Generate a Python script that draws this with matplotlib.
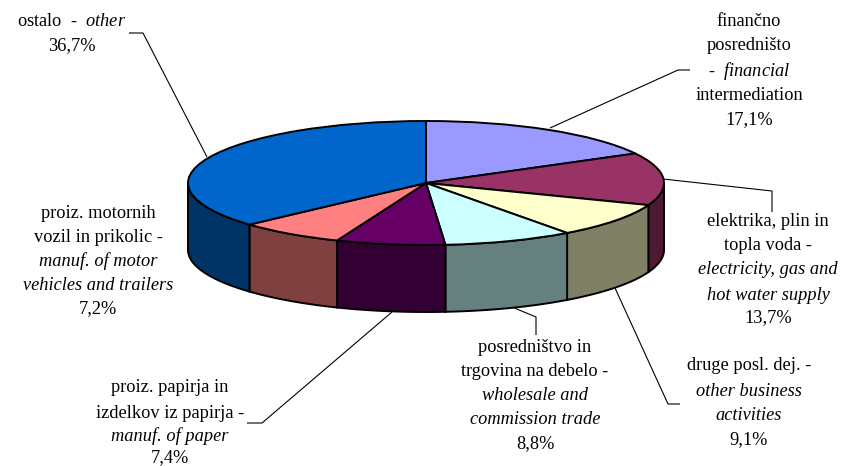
import numpy as np
import matplotlib
matplotlib.use("Agg")
import matplotlib.pyplot as plt

plt.rcParams["font.family"] = ["Liberation Serif", "DejaVu Serif"]
plt.rcParams["mathtext.fontset"] = "custom"
plt.rcParams["mathtext.rm"] = "Liberation Serif"
plt.rcParams["mathtext.it"] = "Liberation Serif:italic"

# slices, clockwise from 12 o'clock
shares = [17.1, 13.7, 9.1, 8.8, 7.4, 7.2, 36.7]
top_colors = ["#9999FF", "#993366", "#FFFFCC", "#CCFFFF", "#660066", "#FF8080", "#0066CC"]
side_colors = ["#4D4D80", "#4D1933", "#808066", "#668080", "#330033", "#804040", "#003366"]

financial_lines = ["finančno", "posredništo", r"-  $\mathit{financial}$", "intermediation", "17,1%"]
electricity_lines = ["elektrika, plin in", "topla voda -", "electricity, gas and", "hot water supply", "13,7%"]
business_lines = ["druge posl. dej. -", "other business", "activities", "9,1%"]
trade_lines = ["posredništvo in", "trgovina na debelo -", "wholesale and", "commission trade", "8,8%"]
paper_lines = ["proiz. papirja in", "izdelkov iz papirja -", "manuf. of paper", "7,4%"]
motor_lines = ["proiz. motornih", "vozil in prikolic -", "manuf. of motor", "vehicles and trailers", "7,2%"]
other_lines = [r"ostalo  -  $\mathit{other}$", "36,7%"]

# pie geometry in image pixels
CX, CY, RX, RY, DEPTH = 426, 183, 238, 62, 67
W, H = 845, 466

fig = plt.figure(figsize=(W / 100, H / 100), dpi=100)

# full canvas axes in pixel coordinates, for labels and leader lines
ax = fig.add_axes([0, 0, 1, 1])
ax.set_xlim(0, W)
ax.set_ylim(H, 0)
ax.axis("off")

# the top face is a plain pie stretched to an ellipse
pie_ax = fig.add_axes([(CX - RX) / W, 1 - (CY + RY) / H, 2 * RX / W, 2 * RY / H])
pie_ax.pie(shares, colors=top_colors, startangle=90, counterclock=False, radius=1,
           wedgeprops={"edgecolor": "black", "linewidth": 1.4, "zorder": 3})
pie_ax.set_aspect("auto")
pie_ax.set_xlim(-1, 1)
pie_ax.set_ylim(-1, 1)
pie_ax.patch.set_visible(False)

# side walls, only the front half of the rim can be seen
edges = np.concatenate([[0], np.cumsum(shares)]) / sum(shares) * 2 * np.pi
drop = DEPTH / RY
for start, end, color in zip(edges[:-1], edges[1:], side_colors):
    a = max(start, np.pi / 2)
    b = min(end, 3 * np.pi / 2)
    if b <= a:
        continue
    t = np.linspace(a, b, 60)
    xs = np.sin(t)
    ys = np.cos(t)
    pie_ax.fill(np.r_[xs, xs[::-1]], np.r_[ys, ys[::-1] - drop], facecolor=color,
                edgecolor="black", linewidth=1.4, clip_on=False, zorder=1)


def leader(points):
    xs, ys = zip(*points)
    ax.plot(xs, ys, color="black", linewidth=0.8, solid_capstyle="butt")


def label(lines, x, y_positions, italic=()):
    for i, (line, y) in enumerate(zip(lines, y_positions)):
        ax.text(x, y, line, ha="center", va="center", fontsize=13.2, color="black",
                style="italic" if i in italic else "normal")


leader([(129, 33), (143, 33), (207, 157)])
leader([(550, 128), (678, 70), (690, 70)])
leader([(663, 179), (772, 191), (772, 212)])
leader([(615, 288), (668, 404), (680, 404)])
leader([(512, 307), (536, 317), (536, 335)])
leader([(392, 312), (262, 423), (247, 423)])

label(other_lines, 72, [22, 46])
label(financial_lines, 749, [22, 46, 71, 96, 120])
label(electricity_lines, 768, [222, 246, 270, 295, 318], italic=(2, 3))
label(business_lines, 749, [365, 391, 416, 440], italic=(1, 2))
label(trade_lines, 535, [347, 371, 396, 420, 444], italic=(2, 3))
label(paper_lines, 170, [388, 413, 436, 458], italic=(2,))
label(motor_lines, 98, [214, 238, 261, 285, 309], italic=(2, 3))

fig.savefig("out.png", dpi=100)
